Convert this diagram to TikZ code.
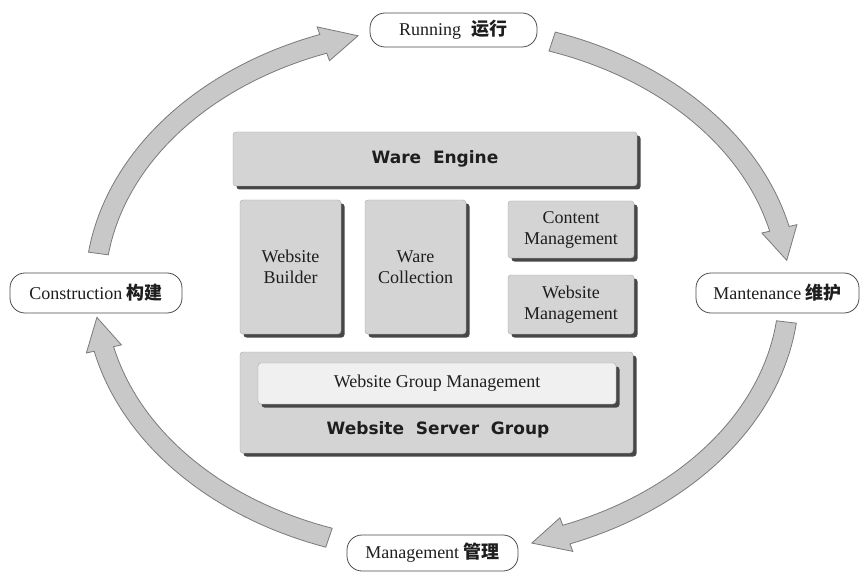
\documentclass[tikz,border=0pt]{standalone}
\usepackage{fontspec}
\setmainfont{Liberation Serif}
\newfontfamily\boldsans{DejaVu Sans}
\newfontfamily\cjk{Noto Sans CJK SC}
\usetikzlibrary{shadows}
\definecolor{facegray}{HTML}{D4D4D4}
\definecolor{arrowgray}{HTML}{C8C8C8}
\definecolor{edgegray}{HTML}{7A7A7A}
\definecolor{inktext}{HTML}{1E1E1E}
\newcommand\cyclearrow[3]{%
  \filldraw[arrowstyle]
    plot[domain=0:1, samples=40] ({442+357*cos(#1+(#2-#1)*\x)},{290+272*sin(#1+(#2-#1)*\x)})
    -- ({442+365*cos(#2)},{290+280*sin(#2)})
    -- ({442+347*cos(#3)},{290+262*sin(#3)})
    -- ({442+329*cos(#2)},{290+244*sin(#2)})
    -- plot[domain=0:1, samples=40] ({442+337*cos(#2+(#1-#2)*\x)},{290+252*sin(#2+(#1-#2)*\x)})
    -- cycle;}
\begin{document}
\begin{tikzpicture}[x=1pt,y=-1pt,
  box/.style={draw=black!35, fill=facegray, rounded corners=3pt, inner sep=0pt,
    drop shadow={shadow xshift=3.5pt, shadow yshift=-3.5pt, fill=black!72, opacity=1},
    font=\fontsize{18}{21}\selectfont, text=inktext, align=center},
  innerbox/.style={box, fill=black!6},
  bigtext/.style={font=\boldsans\bfseries\fontsize{17}{20}\selectfont, text=inktext},
  lbl/.style={draw=black!70, fill=white, rounded corners=15pt, line width=0.8pt, inner sep=0pt,
    font=\fontsize{18}{21}\selectfont, text=inktext},
  arrowstyle/.style={fill=arrowgray, draw=edgegray, line width=0.8pt, line join=miter}]
\useasboundingbox (0,0) rectangle (862,572);
\fill[white] (0,0) rectangle (862,572);

% cycle arrows
\cyclearrow{188}{250}{256}
\cyclearrow{-71.5}{-13.5}{-6.5}
\cyclearrow{7}{69}{75}
\cyclearrow{109}{167}{174}

% stage labels
\node[lbl, minimum width=167pt, minimum height=34pt] (run) at (453.5,30) {Running\hspace{0.6em}{\cjk\bfseries 运行}};
\node[lbl, minimum width=172pt, minimum height=40pt] (con) at (96,293) {Construction {\cjk\bfseries 构建}};
\node[lbl, minimum width=163pt, minimum height=40pt] (mnt) at (777.5,293) {Mantenance {\cjk\bfseries 维护}};
\node[lbl, minimum width=171pt, minimum height=36pt] (mgt) at (432.5,553) {Management {\cjk\bfseries 管理}};

% central blocks
\node[box, minimum width=404pt, minimum height=54pt, bigtext] (engine) at (435,159) {Ware\hspace{0.35em} Engine};
\node[box, minimum width=101pt, minimum height=134pt] (builder) at (290.5,267) {Website\\Builder};
\node[box, minimum width=101pt, minimum height=134pt] (collect) at (415.5,267) {Ware\\Collection};
\node[box, minimum width=126pt, minimum height=57pt] (content) at (571,229.5) {Content\\Management};
\node[box, minimum width=126pt, minimum height=59pt] (webmgt) at (571,304.5) {Website\\Management};
\node[box, minimum width=393pt, minimum height=101pt] (server) at (436.5,402.5) {};
\node[innerbox, minimum width=358pt, minimum height=41pt] (groupmgt) at (437,383.5) {Website Group Management};
\node[bigtext] (servertext) at (438,430) {Website\hspace{0.35em} Server\hspace{0.35em} Group};
\end{tikzpicture}
\end{document}
